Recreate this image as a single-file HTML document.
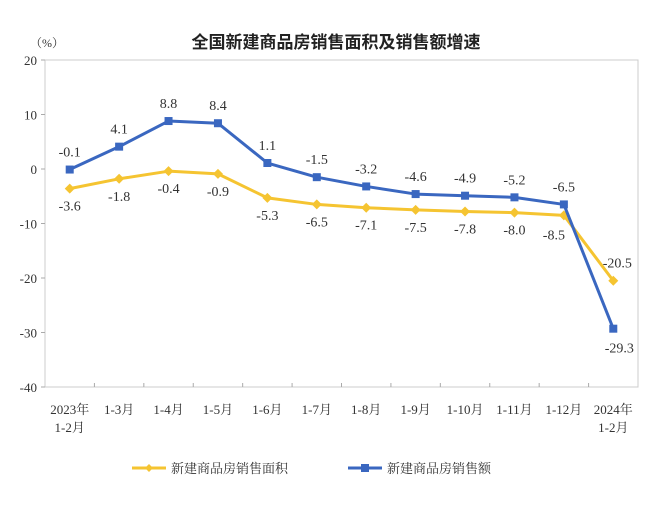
<!DOCTYPE html>
<html><head><meta charset="utf-8"><style>
body{margin:0;background:#fff;}
svg text{font-family:"Liberation Serif","Noto Serif CJK SC",serif;fill:#333;}
</style></head><body>
<svg width="672" height="500" xmlns="http://www.w3.org/2000/svg">
<text x="336" y="48" text-anchor="middle" style="font-family:'Liberation Sans','Noto Sans CJK SC',sans-serif;font-size:17px;font-weight:bold;fill:#222">全国新建商品房销售面积及销售额增速</text>
<text x="30" y="47" font-size="12">（%）</text>
<rect x="45" y="60" width="593" height="327" fill="none" stroke="#ccc"/>
<g id="yaxis"></g><g id="xaxis"></g><g id="series"></g>
<g>
<g><line x1="132" y1="468" x2="166" y2="468" stroke="#f5c431" stroke-width="3"/><path d="M149 464 L153 468 L149 472 L145 468Z" fill="#f5c431"/><text x="171" y="473" font-size="13">新建商品房销售面积</text></g>
<g><line x1="348" y1="468" x2="382" y2="468" stroke="#3a67c0" stroke-width="3"/><rect x="361" y="464" width="8" height="8" fill="#3a67c0"/><text x="387" y="473" font-size="13">新建商品房销售额</text></g>
</g>
</svg>
<script>
const categories=["2023年|1-2月","1-3月","1-4月","1-5月","1-6月","1-7月","1-8月","1-9月","1-10月","1-11月","1-12月","2024年|1-2月"];
const areaValues=[-3.6,-1.8,-0.4,-0.9,-5.3,-6.5,-7.1,-7.5,-7.8,-8.0,-8.5,-20.5];
const salesValues=[-0.1,4.1,8.8,8.4,1.1,-1.5,-3.2,-4.6,-4.9,-5.2,-6.5,-29.3];
const yTicks=[20,10,0,-10,-20,-30,-40];
const NS="http://www.w3.org/2000/svg";
const L=45,R=638,T=60,B=387,ymax=20,ymin=-40;
const bw=(R-L)/categories.length;
const x=i=>L+bw*(i+0.5);
const y=v=>T+(ymax-v)/(ymax-ymin)*(B-T);
function mk(tag,attrs,parent){const e=document.createElementNS(NS,tag);for(const k in attrs)e.setAttribute(k,attrs[k]);parent.appendChild(e);return e;}
const ya=document.getElementById('yaxis'),xa=document.getElementById('xaxis'),sg=document.getElementById('series');
yTicks.forEach(t=>{
 const tk=mk('line',{x1:L-4,x2:L,y1:y(t),y2:y(t),stroke:'#aaa'},ya);
 
 
 const tx=mk('text',{x:L-8,y:y(t)+5,'text-anchor':'end','font-size':13},ya);
 tx.textContent=t;
 
 
});
categories.forEach((c,i)=>{
 if(i>0){const tk=mk('line',{x1:L+bw*i,x2:L+bw*i,y1:B,y2:B-4,stroke:'#aaa'},xa);
 
 }
 const parts=c.split('|');
 parts.forEach((p,j)=>{
  const tx=mk('text',{x:x(i),y:B+27+j*18,'text-anchor':'middle','font-size':13},xa);
  tx.textContent=p;
  
  
 });
});
function drawSeries(vals,color,name,marker,labelBelow){
 const pl=mk('polyline',{points:vals.map((v,i)=>x(i)+','+y(v)).join(' '),fill:'none',stroke:color,'stroke-width':3,'stroke-linejoin':'round'},sg);
 
 
 vals.forEach((v,i)=>{
  let m;
  if(marker==='sq') m=mk('rect',{x:x(i)-4,y:y(v)-4,width:8,height:8,fill:color},sg);
  else m=mk('path',{d:`M${x(i)} ${y(v)-5}L${x(i)+5} ${y(v)}L${x(i)} ${y(v)+5}L${x(i)-5} ${y(v)}Z`,fill:color},sg);
  
  
  let ly=labelBelow?y(v)+22:y(v)-13, lx=x(i);
  if(name==='sales'&&i===categories.length-1){ly=y(v)+24;lx+=6;}
  if(name==='area'&&i===categories.length-1){ly=y(v)-13;lx+=4;}
  if(name==='area'&&i===categories.length-2){ly=y(v)+24;lx-=10;}
  const t=mk('text',{x:lx,y:ly,'text-anchor':'middle','font-size':14},sg);
  t.textContent=v.toFixed(1);
  
  
 });
}
drawSeries(areaValues,'#f5c431','area','dia',true);
drawSeries(salesValues,'#3a67c0','sales','sq',false);
</script>
</body></html>
